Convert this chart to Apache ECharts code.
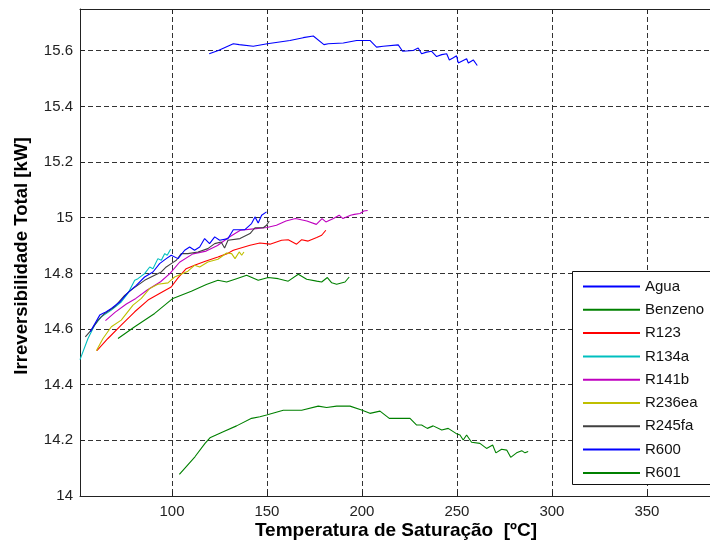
<!DOCTYPE html>
<html>
<head>
<meta charset="utf-8">
<script src="https://cdn.jsdelivr.net/npm/echarts@6/dist/echarts.min.js"></script>
<style>
  html, body { margin: 0; padding: 0; background: #fff; }
  #chart { width: 710px; height: 544px; }
</style>
</head>
<body>
<div id="chart"></div>
<script>
// Saturation temperature [ºC] and total irreversibility [kW] per working fluid
const tAgua = [119.6,124.4,132.3,135.4,142.8,150.2,162.1,169.1,174.4,180,182.3,190.2,197.2,204.2,207.7,211.2,219.1,221.4,227,229.6,231.4,234,236.7,239.3,242,244.6,246,248.1,249.8,250.7,253.3,255.1,256,258.6,260.7];
const vAgua = [15.589,15.601,15.625,15.622,15.616,15.625,15.637,15.647,15.653,15.622,15.625,15.628,15.637,15.637,15.613,15.616,15.621,15.598,15.601,15.610,15.589,15.595,15.598,15.579,15.586,15.589,15.567,15.575,15.582,15.556,15.565,15.571,15.556,15.567,15.547];

const tBenzeno = [71.6,80.4,90.9,100.5,110.2,118.1,124.2,128.8,134,139.3,145.4,150.7,155.9,161.2,166.5,170.9,176.2,178.8,181.8,184.1,186.7,191.1,193.3];
const vBenzeno = [14.566,14.608,14.656,14.710,14.736,14.760,14.775,14.769,14.781,14.793,14.775,14.785,14.781,14.772,14.797,14.779,14.772,14.769,14.785,14.766,14.761,14.769,14.787];

const tR123 = [60.5,66.3,73.3,80.4,87.4,94.4,99.6,103.2,107.5,111.9,117.2,124.2,129.1,132.3,141.1,146.3,151.6,157.7,161.2,165.6,168.3,171.7,176.2,178.8,181];
const vR123 = [14.522,14.566,14.614,14.662,14.704,14.731,14.751,14.784,14.817,14.829,14.843,14.859,14.871,14.883,14.901,14.909,14.905,14.919,14.921,14.905,14.921,14.916,14.929,14.937,14.955];

const tR134a = [51.6,55.8,59.3,62.8,68.1,73.3,76.8,80.4,82.1,85.6,88.3,90,92.6,94.4,96.2,97.5,99.3];
const vR134a = [14.49,14.566,14.614,14.644,14.668,14.697,14.728,14.775,14.781,14.799,14.823,14.817,14.853,14.847,14.871,14.865,14.887];

const tR141b = [65,70,76,81,87,94,99,104,111,118,124,130,136,143,150,155,160,165,171,176,179,181,185,188,190,194,196,199,201,203];
const vR141b = [14.63,14.66,14.69,14.71,14.74,14.77,14.80,14.84,14.87,14.88,14.90,14.93,14.955,14.96,14.965,14.973,14.988,14.997,14.988,14.976,14.997,14.985,14.997,15.009,14.997,15.009,15.012,15.015,15.024,15.026];

const tR236ea = [60.2,63.7,68.1,73.3,79.5,83.9,88.3,92.6,97.9,101.4,108.4,111.9,114.6,118.9,124.2,128.8,131.4,133.2,135.4,136.7,137.9];
const vR236ea = [14.522,14.566,14.608,14.632,14.686,14.710,14.746,14.761,14.766,14.787,14.808,14.829,14.823,14.841,14.851,14.873,14.871,14.853,14.877,14.865,14.877];

const tR245fa = [54.4,57.5,61.1,64.6,69.8,75.1,79.5,85.6,90.9,94.4,97,99.6,102.3,104.9,108.4,113.7,118.9,122.5,125.9,127.7,129.5,135.8,141.1,143.7,148.1,149.8,151.2];
const vR245fa = [14.572,14.596,14.632,14.656,14.680,14.721,14.745,14.775,14.793,14.805,14.823,14.835,14.847,14.871,14.871,14.877,14.889,14.907,14.913,14.891,14.919,14.925,14.943,14.964,14.964,14.973,14.988];

const tR600 = [57,62,64.6,68.1,72.5,76.8,81.2,85.6,90,93.5,97,99.6,103.2,106.7,109.3,111.9,114.6,117.2,119.8,122.5,125.1,129.5,132.3,138.4,141.9,143.7,145.4,147.2,149.8];
const vR600 = [14.59,14.650,14.659,14.674,14.697,14.731,14.757,14.787,14.805,14.835,14.853,14.865,14.853,14.883,14.895,14.883,14.895,14.925,14.907,14.931,14.919,14.925,14.957,14.957,14.979,15.003,14.981,15.009,15.021];

const tR601 = [103.9,112.1,117.4,120,127,134,141.9,146.3,149.8,158.6,168.3,177,181.4,186.7,193.7,199.8,204.2,209.5,214.4,225.3,228.8,231.4,234.4,237.5,242,245.4,249.5,251.6,253.3,255.1,257.7,262.1,265.6,268.8,270.5,273.5,276.2,278.3,281.4,284.1,285.8,287.5];
const vR601 = [14.078,14.141,14.189,14.209,14.231,14.252,14.279,14.285,14.291,14.308,14.308,14.323,14.318,14.323,14.323,14.309,14.297,14.305,14.279,14.279,14.255,14.255,14.243,14.252,14.237,14.243,14.225,14.219,14.201,14.219,14.193,14.189,14.171,14.183,14.155,14.168,14.165,14.139,14.155,14.163,14.155,14.160];

const fluids = [
  { name: 'Agua',    t: tAgua,    v: vAgua,    color: '#0000ff' },
  { name: 'Benzeno', t: tBenzeno, v: vBenzeno, color: '#008000' },
  { name: 'R123',    t: tR123,    v: vR123,    color: '#ff0000' },
  { name: 'R134a',   t: tR134a,   v: vR134a,   color: '#00bfbf' },
  { name: 'R141b',   t: tR141b,   v: vR141b,   color: '#bf00bf' },
  { name: 'R236ea',  t: tR236ea,  v: vR236ea,  color: '#bfbf00' },
  { name: 'R245fa',  t: tR245fa,  v: vR245fa,  color: '#404040' },
  { name: 'R600',    t: tR600,    v: vR600,    color: '#0000ff' },
  { name: 'R601',    t: tR601,    v: vR601,    color: '#008000' }
];

const FONT = 'Liberation Sans, Arial, sans-serif';
const gridDash = { color: '#333', width: 1, type: [5, 3] };
const X_MIN = 51.6, X_MAX = 383.2;

const chart = echarts.init(document.getElementById('chart'), null, { renderer: 'canvas' });

chart.setOption({
  backgroundColor: '#fff',
  animation: false,
  grid: { left: 80, top: 9, right: 0, bottom: 48, containLabel: false },
  xAxis: [{
    type: 'value', min: X_MIN, max: X_MAX, splitNumber: 7,
    axisLine: { show: true, lineStyle: { color: '#222', width: 1 } },
    axisTick: { show: true, inside: true, length: 5, lineStyle: { color: '#222' } },
    axisLabel: { showMinLabel: false, showMaxLabel: false, margin: 8, color: '#222', fontFamily: FONT, fontSize: 15 },
    splitLine: { show: true, lineStyle: gridDash }
  }, {
    type: 'value', position: 'top', min: X_MIN, max: X_MAX, splitNumber: 7,
    axisLine: { show: true, onZero: false, lineStyle: { color: '#222', width: 1 } },
    axisTick: { show: true, inside: true, length: 5, lineStyle: { color: '#222' } },
    axisLabel: { show: false },
    splitLine: { show: false }
  }],
  yAxis: {
    type: 'value', min: 14, max: 15.75, interval: 0.2,
    axisLine: { show: true, lineStyle: { color: '#222', width: 1 } },
    axisTick: { show: true, inside: true, length: 5, lineStyle: { color: '#222' } },
    axisLabel: {
      showMaxLabel: false, margin: 7, color: '#222', fontFamily: FONT, fontSize: 15,
      formatter: v => String(Math.round(v * 10) / 10)
    },
    splitLine: { show: true, lineStyle: gridDash }
  },
  legend: {
    orient: 'vertical', left: 572, top: 271,
    padding: [8, 10, 6, 10],
    itemWidth: 57, itemHeight: 14, itemGap: 8.3,
    itemStyle: { opacity: 0 },
    textStyle: { fontFamily: FONT, fontSize: 15, color: '#111' },
    data: fluids.map(f => f.name)
  },
  graphic: [{
    // legend frame, running past the right edge of the canvas
    type: 'rect', z: 3, silent: true,
    shape: { x: 572.5, y: 271.5, width: 160, height: 213 },
    style: { fill: '#fff', stroke: '#111', lineWidth: 1 }
  }, {
    type: 'text', x: 396, y: 531,
    style: { text: 'Temperatura de Saturação  [ºC]', font: 'bold 19px ' + FONT, fill: '#000', textAlign: 'center', textVerticalAlign: 'middle' }
  }, {
    type: 'text', x: 22, y: 256, rotation: Math.PI / 2,
    style: { text: 'Irreversibilidade Total [kW]', font: 'bold 18.6px ' + FONT, fill: '#000', textAlign: 'center', textVerticalAlign: 'middle' }
  }],
  series: fluids.map(f => ({
    name: f.name, type: 'line', xAxisIndex: 0,
    data: f.t.map((t, i) => [t, f.v[i]]),
    symbol: 'none', color: f.color,
    lineStyle: { color: f.color, width: 1.1 }
  }))
});
</script>
</body>
</html>
